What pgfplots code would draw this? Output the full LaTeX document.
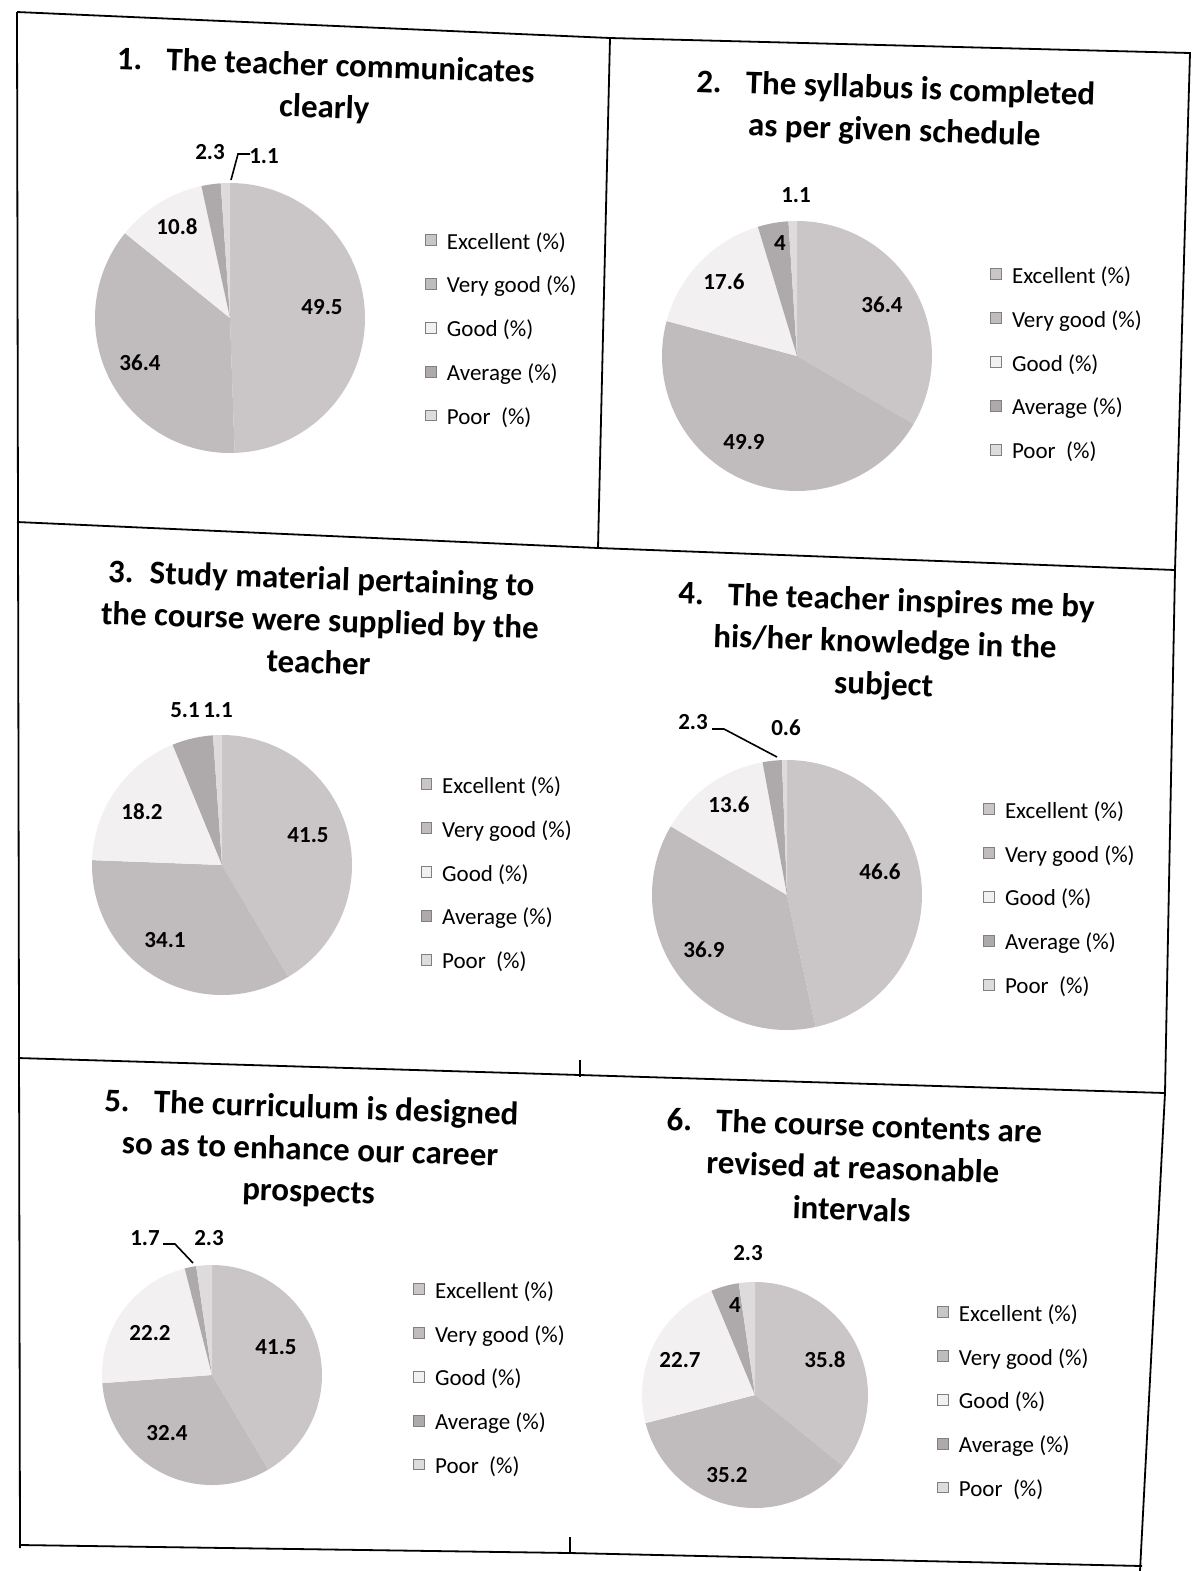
\documentclass[border=0pt]{standalone}
\usepackage{pgfplots}
\pgfplotsset{compat=1.18}
\usepackage{fontspec}
\setmainfont{Carlito}

% greyscale scan colours
\definecolor{cExc}{HTML}{CAC6C8}
\definecolor{cVg}{HTML}{C0BCBE}
\definecolor{cGood}{HTML}{F3F0F1}
\definecolor{cAvg}{HTML}{AEAAAC}
\definecolor{cPoor}{HTML}{DEDBDC}

\pgfplotsset{
  pie/.style={hide axis, scale only axis, anchor=origin,
    xmin=-1, xmax=1, ymin=-1, ymax=1, clip=false,
    legend cell align=left,
    legend style={draw=none, fill=none, inner sep=0pt, anchor=west,
      row sep=12pt, column sep=5pt,
      font=\fontsize{11.5}{13.5}\selectfont,
      nodes={inner sep=0pt}}},
  legend image code/.code={\filldraw[#1, draw=black!50, line width=0.4pt] (0pt,-1.6pt) rectangle (5.4pt,3.8pt);}
}

% one slice: from angle #1 to #2 (degrees), colour #3, legend #4
\newcommand\slice[4]{%
  \edef\tmp{\noexpand\addplot[fill=#3, draw=none, domain=#1:#2, samples=90]
    ({cos(x)},{sin(x)}) -- (axis cs:0,0) -- cycle;}%
  \tmp
  \addlegendentry{#4}}

% pie from the five percentages, clockwise from 12 o'clock
\newcommand\drawpie[5]{%
  \pgfmathsetmacro\pk{360/(#1+#2+#3+#4+#5)}%
  \pgfmathsetmacro\aB{90-\pk*(#1)}%
  \pgfmathsetmacro\aC{90-\pk*(#1+#2)}%
  \pgfmathsetmacro\aD{90-\pk*(#1+#2+#3)}%
  \pgfmathsetmacro\aE{90-\pk*(#1+#2+#3+#4)}%
  \slice{\aB}{90}{cExc}{Excellent (\%)}
  \slice{\aC}{\aB}{cVg}{Very good (\%)}
  \slice{\aD}{\aC}{cGood}{Good (\%)}
  \slice{\aE}{\aD}{cAvg}{Average (\%)}
  \slice{-270}{\aE}{cPoor}{Poor\ \ (\%)}}

\begin{document}
\begin{tikzpicture}
\begin{scope}[x=0.5pt, y=-0.5pt]
  \useasboundingbox (0,0) rectangle (1191,1571);
  % pie centres
  \coordinate (C1) at (230,318);
  \coordinate (C2) at (797,356);
  \coordinate (C3) at (222,865);
  \coordinate (C4) at (787,895);
  \coordinate (C5) at (212,1375);
  \coordinate (C6) at (755,1395);

  % table frame
  \begin{scope}[line width=0.9pt]
    \draw (17,12) -- (610,38) -- (1190,53) -- (1175,570) -- (1165,1093) -- (1140,1571);
    \draw (17,12) -- (20,1548);
    \draw (610,38) -- (598,548);
    \draw (17,522) -- (598,548) -- (1175,570);
    \draw (18,1058) -- (580,1075) -- (1165,1093);
    \draw (20,1545) -- (570,1553) -- (1142,1566);
    \draw (580,1060) -- (580,1077);
    \draw (570,1537) -- (570,1553);
  \end{scope}

  % titles
  \begin{scope}[every node/.style={align=center, rotate=-1.9,
      font=\bfseries\fontsize{16.5}{21}\selectfont}]
    \node at (325,88) {1.\hspace{12pt}The teacher communicates\\clearly};
    \node at (895,111) {2.\hspace{12pt}The syllabus is completed\\as per given schedule};
    \node at (320,620) {3.\hspace{8pt}Study material pertaining to\\the course were supplied by the\\teacher};
    \node at (885,644) {4.\hspace{12pt}The teacher inspires me by\\his/her knowledge in the\\subject};
    \node at (310,1151) {5.\hspace{12pt}The curriculum is designed\\so as to enhance our career\\prospects};
    \node at (853,1167) {6.\hspace{12pt}The course contents are\\revised at reasonable\\intervals};
  \end{scope}
\end{scope}

\begin{axis}[pie, at={(C1)}, width=135pt, height=135pt, legend style={at={(1.222,0.456)}}]
  \drawpie{49.5}{36.4}{10.8}{2.3}{1.1}
\end{axis}
\begin{axis}[pie, at={(C2)}, width=135pt, height=135pt, legend style={at={(1.215,0.470)}}]
  \drawpie{36.4}{49.9}{17.6}{4}{1.1}
\end{axis}
\begin{axis}[pie, at={(C3)}, width=130pt, height=130pt, legend style={at={(1.262,0.465)}}]
  \drawpie{41.5}{34.1}{18.2}{5.1}{1.1}
\end{axis}
\begin{axis}[pie, at={(C4)}, width=135pt, height=135pt, legend style={at={(1.226,0.485)}}]
  \drawpie{46.6}{36.9}{13.6}{2.3}{0.6}
\end{axis}
\begin{axis}[pie, at={(C5)}, width=110pt, height=110pt, legend style={at={(1.414,0.482)}}]
  \drawpie{41.5}{32.4}{22.2}{1.7}{2.3}
\end{axis}
\begin{axis}[pie, at={(C6)}, width=113pt, height=113pt, legend style={at={(1.305,0.469)}}]
  \drawpie{35.8}{35.2}{22.7}{4}{2.3}
\end{axis}

% value labels
\begin{scope}[x=0.5pt, y=-0.5pt, every node/.style={font=\bfseries\fontsize{11.5}{13}\selectfont}]
  \node at (177,227) {10.8}; \node at (322,307) {49.5}; \node at (140,363) {36.4};
  \node at (210,152) {2.3};  \node at (264,156) {1.1};
  \draw[line width=0.8pt] (250,154) -- (238,154) -- (231,180);

  \node at (796,195) {1.1};  \node at (780,243) {4};    \node at (724,282) {17.6};
  \node at (882,305) {36.4}; \node at (744,442) {49.9};

  \node at (185,710) {5.1};  \node at (218,710) {1.1};  \node at (142,812) {18.2};
  \node at (308,835) {41.5}; \node at (165,940) {34.1};

  \node at (693,722) {2.3};  \node at (786,728) {0.6};
  \draw[line width=0.8pt] (712,729) -- (724,729) -- (777,757);
  \node at (729,805) {13.6}; \node at (880,872) {46.6}; \node at (704,950) {36.9};

  \node at (145,1238) {1.7}; \node at (209,1238) {2.3};
  \draw[line width=0.8pt] (163,1244) -- (175,1244) -- (193,1263);
  \node at (150,1333) {22.2}; \node at (276,1347) {41.5}; \node at (167,1433) {32.4};

  \node at (748,1253) {2.3}; \node at (735,1305) {4};   \node at (680,1360) {22.7};
  \node at (825,1360) {35.8}; \node at (727,1475) {35.2};
\end{scope}
\end{tikzpicture}
\end{document}
